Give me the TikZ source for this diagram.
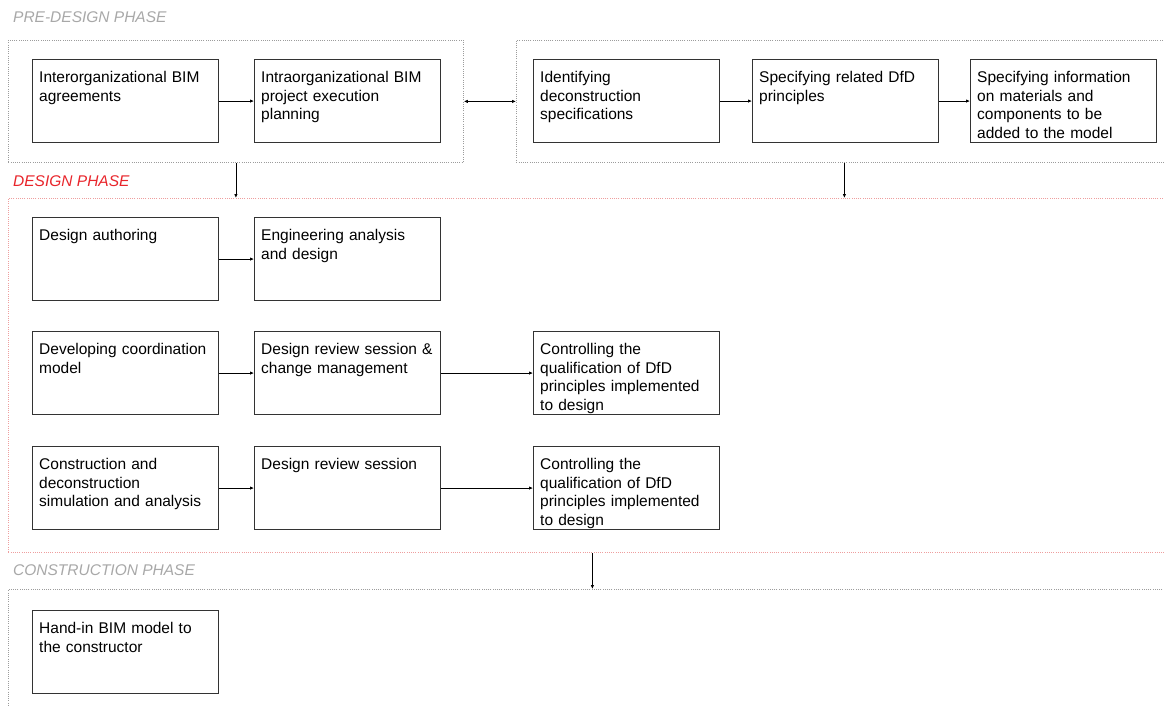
\documentclass[tikz,border=0pt]{standalone}
\usepackage{fontspec}
\setmainfont{Liberation Sans}
\usetikzlibrary{arrows.meta}

\definecolor{boxline}{HTML}{333333}
\definecolor{phasegray}{HTML}{A8A8A8}
\definecolor{phasered}{HTML}{E8252B}
\definecolor{framegray}{HTML}{9C9C9C}
\definecolor{framered}{HTML}{EE9E9E}

\newcommand\bodyfont{\fontsize{15.5}{18.6}\selectfont}

\tikzset{
  % activity boxes: fixed size, text set from the top-left corner
  stagetext/.style={anchor=north west, xshift=7pt, yshift=-10.5pt, inner sep=0pt,
    text width=178pt, align=left, font=\bodyfont, text=black},
  stage/.style={draw=boxline, line width=1.1pt, anchor=north west,
    minimum width=186pt, minimum height=83pt, inner sep=0pt,
    label={[stagetext]north west:\strut #1}},
  % dotted phase frames
  frame/.style={draw=framegray, line width=0.8pt, dash pattern=on 1pt off 1.2pt,
    anchor=north west, inner sep=0pt},
  redframe/.style={frame, draw=framered},
  phase/.style={anchor=base west, inner sep=0pt,
    font=\bodyfont\itshape, text=phasegray},
  arr/.style={draw=black, line width=0.8pt, -{Latex[length=4pt,width=3.5pt]}},
  arrboth/.style={draw=black, line width=0.8pt,
    {Latex[length=4pt,width=3.5pt]}-{Latex[length=4pt,width=3.5pt]}},
}

\begin{document}
\begin{tikzpicture}[x=1pt,y=-1pt]
\useasboundingbox (0,0) rectangle (1164,706);
\clip (0,0) rectangle (1164,706);

% phase titles
\node[phase] (tpre) at (13,23) {PRE-DESIGN PHASE};
\node[phase, text=phasered] (tdes) at (13,186) {DESIGN PHASE};
\node[phase] (tcon) at (13,575) {CONSTRUCTION PHASE};

% phase frames
\node[frame, minimum width=455pt, minimum height=122pt] (preL) at (8,40) {};
\node[frame, minimum width=656pt, minimum height=122pt] (preR) at (516,40) {};
\node[redframe, minimum width=1168pt, minimum height=354pt] (design) at (8,198) {};
\node[frame, minimum width=1168pt, minimum height=160pt] (cons) at (8,589) {};

% pre-design activities
\node[stage={Interorganizational BIM\\agreements}] (inter) at (32,59) {};
\node[stage={Intraorganizational BIM\\project execution\\planning}] (intra) at (254,59) {};
\node[stage={Identifying\\deconstruction\\specifications}] (ident) at (533,59) {};
\node[stage={Specifying related DfD\\principles}] (dfd) at (752,59) {};
\node[stage={Specifying information\\on materials and\\components to be\\added to the model}] (info) at (970,59) {};

% design activities
\node[stage={Design authoring}] (auth) at (32,217) {};
\node[stage={Engineering analysis\\and design}] (eng) at (254,217) {};
\node[stage={Developing coordination\\model}] (coord) at (32,331) {};
\node[stage={Design review session \&\\change management}] (rev1) at (254,331) {};
\node[stage={Controlling the\\qualification of DfD\\principles implemented\\to design}] (ctrl1) at (533,331) {};
\node[stage={Construction and\\deconstruction\\simulation and analysis}] (sim) at (32,446) {};
\node[stage={Design review session}] (rev2) at (254,446) {};
\node[stage={Controlling the\\qualification of DfD\\principles implemented\\to design}] (ctrl2) at (533,446) {};

% construction activity
\node[stage={Hand-in BIM model to\\the constructor}] (hand) at (32,610) {};

% connectors inside phases
\draw[arr] (inter) -- (intra);
\draw[arr] (ident) -- (dfd);
\draw[arr] (dfd) -- (info);
\draw[arr] (auth) -- (eng);
\draw[arr] (coord) -- (rev1);
\draw[arr] (rev1) -- (ctrl1);
\draw[arr] (sim) -- (rev2);
\draw[arr] (rev2) -- (ctrl2);

% connectors between phase frames
\draw[arrboth] (preL.east) -- (preR.west);
\draw[arr] (preL.south) -- (preL.south |- design.north);
\draw[arr] (preR.south) -- (preR.south |- design.north);
\draw[arr] (design.south) -- (design.south |- cons.north);
\end{tikzpicture}
\end{document}
